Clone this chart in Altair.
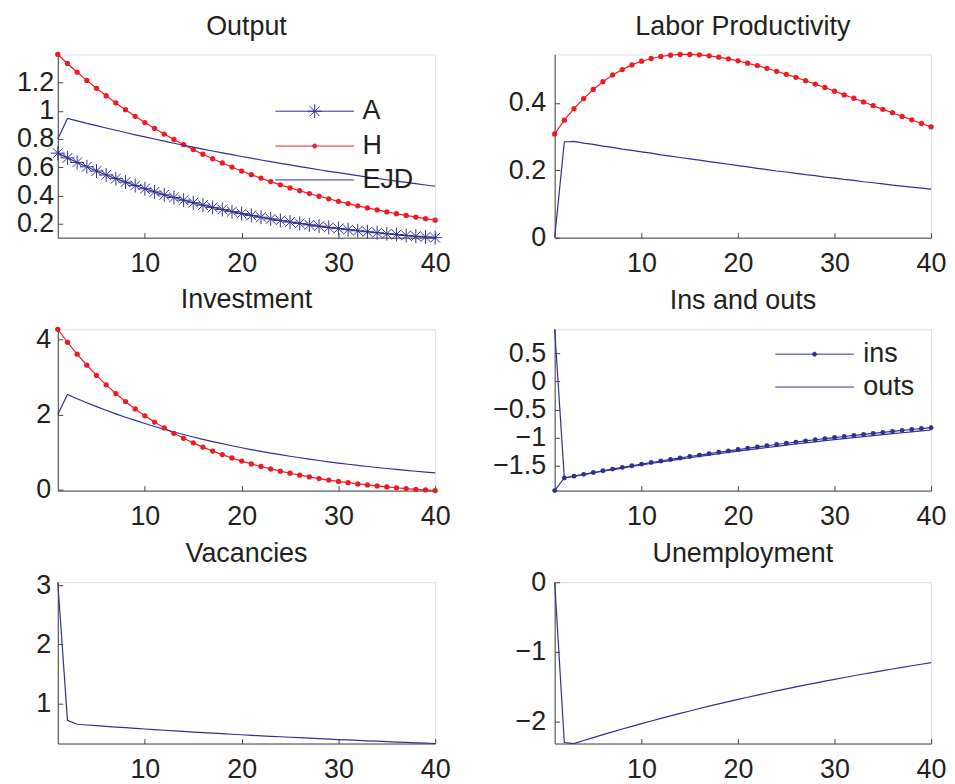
import altair as alt
import pandas as pd

periods = list(range(1, 41))

output_A = [0.700, 0.666, 0.634, 0.603, 0.573, 0.545, 0.519, 0.494, 0.470, 0.447,
            0.425, 0.404, 0.385, 0.366, 0.348, 0.331, 0.315, 0.300, 0.285, 0.271,
            0.258, 0.245, 0.233, 0.222, 0.211, 0.201, 0.191, 0.182, 0.173, 0.165,
            0.157, 0.149, 0.142, 0.135, 0.128, 0.122, 0.116, 0.110, 0.105, 0.100]
output_H = [1.400, 1.336, 1.274, 1.216, 1.160, 1.107, 1.056, 1.008, 0.961, 0.917,
            0.875, 0.835, 0.797, 0.760, 0.725, 0.692, 0.660, 0.630, 0.601, 0.573,
            0.547, 0.522, 0.498, 0.475, 0.453, 0.433, 0.413, 0.394, 0.376, 0.358,
            0.342, 0.326, 0.311, 0.297, 0.283, 0.270, 0.258, 0.246, 0.235, 0.224]
output_EJD = [0.800, 0.946, 0.929, 0.911, 0.895, 0.878, 0.862, 0.846, 0.830, 0.815,
              0.800, 0.785, 0.770, 0.756, 0.742, 0.728, 0.715, 0.702, 0.689, 0.676,
              0.664, 0.651, 0.639, 0.627, 0.616, 0.604, 0.593, 0.582, 0.571, 0.561,
              0.551, 0.540, 0.530, 0.521, 0.511, 0.501, 0.492, 0.483, 0.474, 0.465]

lp_H = [0.308, 0.349, 0.383, 0.413, 0.440, 0.463, 0.483, 0.499, 0.513, 0.524,
        0.532, 0.538, 0.542, 0.544, 0.544, 0.543, 0.540, 0.536, 0.531, 0.525,
        0.518, 0.511, 0.503, 0.494, 0.485, 0.476, 0.466, 0.456, 0.446, 0.435,
        0.424, 0.414, 0.403, 0.392, 0.381, 0.371, 0.360, 0.350, 0.339, 0.329]
lp_EJD = [0.000, 0.284, 0.286, 0.281, 0.277, 0.272, 0.268, 0.263, 0.259, 0.255,
          0.251, 0.246, 0.242, 0.238, 0.234, 0.230, 0.226, 0.222, 0.218, 0.214,
          0.210, 0.206, 0.202, 0.198, 0.195, 0.191, 0.187, 0.184, 0.180, 0.177,
          0.173, 0.170, 0.166, 0.163, 0.160, 0.156, 0.153, 0.150, 0.147, 0.144]

inv_H = [4.260, 3.916, 3.599, 3.306, 3.036, 2.786, 2.555, 2.343, 2.146, 1.964,
         1.797, 1.642, 1.499, 1.368, 1.246, 1.133, 1.029, 0.934, 0.845, 0.763,
         0.688, 0.619, 0.554, 0.495, 0.440, 0.389, 0.343, 0.299, 0.259, 0.223,
         0.189, 0.157, 0.129, 0.102, 0.077, 0.054, 0.033, 0.014, -0.004, -0.021]
inv_EJD = [2.000, 2.530, 2.418, 2.310, 2.208, 2.110, 2.016, 1.927, 1.841, 1.759,
           1.681, 1.607, 1.535, 1.467, 1.402, 1.340, 1.280, 1.224, 1.169, 1.117,
           1.068, 1.020, 0.975, 0.932, 0.890, 0.851, 0.813, 0.777, 0.742, 0.709,
           0.678, 0.648, 0.619, 0.592, 0.565, 0.540, 0.516, 0.493, 0.471, 0.450]

ins = [-1.940, -1.716, -1.683, -1.651, -1.619, -1.588, -1.558, -1.528, -1.499, -1.470,
       -1.442, -1.414, -1.387, -1.360, -1.334, -1.309, -1.283, -1.259, -1.235, -1.211,
       -1.188, -1.165, -1.143, -1.121, -1.099, -1.078, -1.057, -1.037, -1.017, -0.998,
       -0.979, -0.960, -0.941, -0.923, -0.906, -0.888, -0.871, -0.855, -0.838, -0.822]
outs = [0.925, -1.716, -1.685, -1.655, -1.626, -1.596, -1.568, -1.540, -1.512, -1.485,
        -1.459, -1.432, -1.407, -1.382, -1.357, -1.333, -1.309, -1.285, -1.262, -1.240,
        -1.218, -1.196, -1.174, -1.153, -1.133, -1.112, -1.092, -1.073, -1.054, -1.035,
        -1.016, -0.998, -0.980, -0.963, -0.945, -0.929, -0.912, -0.896, -0.880, -0.864]

vacancies = [3.050, 0.720, 0.652, 0.640, 0.628, 0.617, 0.605, 0.594, 0.583, 0.572,
             0.562, 0.551, 0.541, 0.531, 0.521, 0.512, 0.502, 0.493, 0.484, 0.475,
             0.466, 0.457, 0.449, 0.441, 0.433, 0.425, 0.417, 0.409, 0.401, 0.394,
             0.387, 0.380, 0.373, 0.366, 0.359, 0.352, 0.346, 0.339, 0.333, 0.327]

unemployment = [0.000, -2.300, -2.315, -2.272, -2.230, -2.188, -2.147, -2.107, -2.068, -2.030,
                -1.992, -1.955, -1.918, -1.883, -1.848, -1.813, -1.779, -1.746, -1.714, -1.682,
                -1.651, -1.620, -1.590, -1.560, -1.531, -1.502, -1.474, -1.447, -1.420, -1.394,
                -1.368, -1.342, -1.317, -1.293, -1.269, -1.245, -1.222, -1.199, -1.177, -1.155]

x_ticks = [10, 20, 30, 40]

BLUE = "#2E3192"
RED = "#ED1C24"
TEXT = "#231F20"
AXC = "#444444"
FONT = "Liberation Sans"
FS = 27

ASTER = "M-1,0L1,0M0,-1L0,1M-0.7,-0.7L0.7,0.7M-0.7,0.7L0.7,-0.7"


def long_df(series):
    rows = []
    for name, vals in series.items():
        for t, v in zip(periods, vals):
            rows.append({"t": t, "v": v, "s": name})
    return pd.DataFrame(rows)


def x_enc():
    return alt.X(
        "t:Q",
        scale=alt.Scale(domain=[1, 40], nice=False, zero=False),
        axis=alt.Axis(values=x_ticks, title=None, grid=False, labelFontSize=FS, labelFont=FONT,
                      labelColor=TEXT, labelPadding=18, tickSize=alt.ExprRef(expr="-5"),
                      tickColor=AXC, domainColor=AXC, labelFlush=False, labelOverlap=False,
                      minExtent=40, maxExtent=40),
    )


def y_enc(vals, pad):
    return alt.Y(
        "v:Q",
        scale=alt.Scale(zero=False, nice=False),
        axis=alt.Axis(values=vals, format=".1~f", title=None, grid=False, labelFontSize=FS,
                      labelFont=FONT, labelColor=TEXT, labelPadding=pad + 5,
                      tickSize=alt.ExprRef(expr="-5"), tickColor=AXC, domainColor=AXC,
                      labelFlush=False, labelOverlap=False, minExtent=49, maxExtent=49),
    )


def ttl(text, off=13):
    return alt.TitleParams(text=text, fontSize=FS, font=FONT, fontWeight="normal", color=TEXT,
                           offset=off, anchor="middle")


def circle_path(r):
    return f"M-{r},0A{r},{r} 0 1,0 {r},0A{r},{r} 0 1,0 -{r},0"


def make_legend(shape, fillc, size, lx, ly, loff):
    return alt.Legend(
        title=None, orient="none", legendX=lx, legendY=ly, padding=0,
        labelFontSize=FS, labelFont=FONT, labelColor=TEXT, labelOffset=loff, labelLimit=300,
        symbolType=shape, symbolSize=size, symbolStrokeWidth=1, symbolFillColor=fillc,
        symbolOpacity=1,
    )


def series_line(df, name, color, yv, pad, legend=None):
    return alt.Chart(df).transform_filter(f"datum.s == '{name}'").mark_line(strokeWidth=1.2).encode(
        x_enc(), y_enc(yv, pad),
        color=alt.Color("s:N", scale=alt.Scale(domain=[name], range=[color]), legend=legend))


# ---------- Output ----------
df_out = long_df({"A": output_A, "H": output_H, "EJD": output_EJD})
L1 = "M-2.39,0L2.39,0"
L1A = L1 + "M-0.42,0L0.42,0M0,-0.42L0,0.42M-0.3,-0.3L0.3,0.3M-0.3,0.3L0.3,-0.3"
L1H = L1 + circle_path(0.03) + circle_path(0.075) + circle_path(0.12)
yv_out = [0.2, 0.4, 0.6, 0.8, 1.0, 1.2]
out_A = series_line(df_out, "A", BLUE, yv_out, 4, make_legend(L1A, BLUE, 1089, 241, 40, 31))
out_H = series_line(df_out, "H", RED, yv_out, 4, make_legend(L1H, RED, 1089, 241, 75, 31))
out_E = series_line(df_out, "EJD", BLUE, yv_out, 4, make_legend(L1, BLUE, 1089, 241, 109, 31))
out_aster = alt.Chart(df_out).transform_filter("datum.s == 'A'").mark_point(
    shape=ASTER, size=196, filled=False, strokeWidth=1, color=BLUE, opacity=1).encode(
    x_enc(), y_enc(yv_out, 4))
out_dots = alt.Chart(df_out).transform_filter("datum.s == 'H'").mark_circle(
    size=28, color=RED, opacity=1).encode(x_enc(), y_enc(yv_out, 4))
p_out = alt.layer(out_A, out_aster, out_H, out_dots, out_E).resolve_scale(
    color="independent").resolve_legend(color="independent").properties(
    width=379, height=184, title=ttl("Output", 11))

# ---------- Labor productivity ----------
df_lp = long_df({"H": lp_H, "EJD": lp_EJD})
yv_lp = [0, 0.2, 0.4]
b = alt.Chart(df_lp)
lp_lines = b.mark_line(strokeWidth=1.2).encode(
    x_enc(), y_enc(yv_lp, 9),
    color=alt.Color("s:N", scale=alt.Scale(domain=["H", "EJD"], range=[RED, BLUE]), legend=None))
lp_dots = b.transform_filter("datum.s == 'H'").mark_circle(size=28, color=RED, opacity=1).encode(
    x_enc(), y_enc(yv_lp, 9))
p_lp = alt.layer(lp_lines, lp_dots).properties(width=378, height=184,
                                              title=ttl("Labor Productivity", 11))

# ---------- Investment ----------
df_inv = long_df({"H": inv_H, "EJD": inv_EJD})
yv_inv = [0, 2, 4]
b = alt.Chart(df_inv)
inv_lines = b.mark_line(strokeWidth=1.2).encode(
    x_enc(), y_enc(yv_inv, 7),
    color=alt.Color("s:N", scale=alt.Scale(domain=["H", "EJD"], range=[RED, BLUE]), legend=None))
inv_dots = b.transform_filter("datum.s == 'H'").mark_circle(size=28, color=RED, opacity=1).encode(
    x_enc(), y_enc(yv_inv, 7))
p_inv = alt.layer(inv_lines, inv_dots).properties(width=379, height=162, title=ttl("Investment", 11))

# ---------- Ins and outs ----------
df_io = long_df({"ins": ins, "outs": outs})
L2 = "M-2.54,0L2.54,0"
L2D = L2 + circle_path(0.03) + circle_path(0.08) + circle_path(0.13)
yv_io = [-1.5, -1, -0.5, 0, 0.5]
io_ins = series_line(df_io, "ins", BLUE, yv_io, 9, make_legend(L2D, BLUE, 961, 245, 9, 33))
io_outs = series_line(df_io, "outs", BLUE, yv_io, 9, make_legend(L2, BLUE, 961, 245, 42, 33))
io_dots = alt.Chart(df_io).transform_filter("datum.s == 'ins'").mark_circle(
    size=24, color=BLUE, opacity=1).encode(x_enc(), y_enc(yv_io, 9))
p_io = alt.layer(io_ins, io_outs, io_dots).resolve_scale(
    color="independent").resolve_legend(color="independent").properties(
    width=378, height=162, title=ttl("Ins and outs", 12))

# ---------- Vacancies ----------
df_vac = long_df({"Vacancies": vacancies})
p_vac = alt.Chart(df_vac).mark_line(strokeWidth=1.2, color=BLUE).encode(
    x_enc(), y_enc([1, 2, 3], 7)).properties(width=379, height=162, title=ttl("Vacancies", 3))

# ---------- Unemployment ----------
df_un = long_df({"Unemployment": unemployment})
p_un = alt.Chart(df_un).mark_line(strokeWidth=1.2, color=BLUE).encode(
    x_enc(), y_enc([-2, -1, 0], 9)).properties(width=378, height=162, title=ttl("Unemployment", 0))

chart = alt.concat(
    p_out, p_lp, p_inv, p_io, p_vac, p_un,
    columns=2, spacing={"row": 92, "column": 120}, bounds="flush", align="each",
).resolve_scale(
    x="independent", y="independent", color="independent"
).resolve_legend(
    color="independent"
).properties(
    padding={"left": 0, "top": 2, "right": 0, "bottom": 0}
).configure_view(strokeWidth=0).configure(font=FONT)

chart.save("out.html", embed_options={"renderer": "svg", "actions": False})
